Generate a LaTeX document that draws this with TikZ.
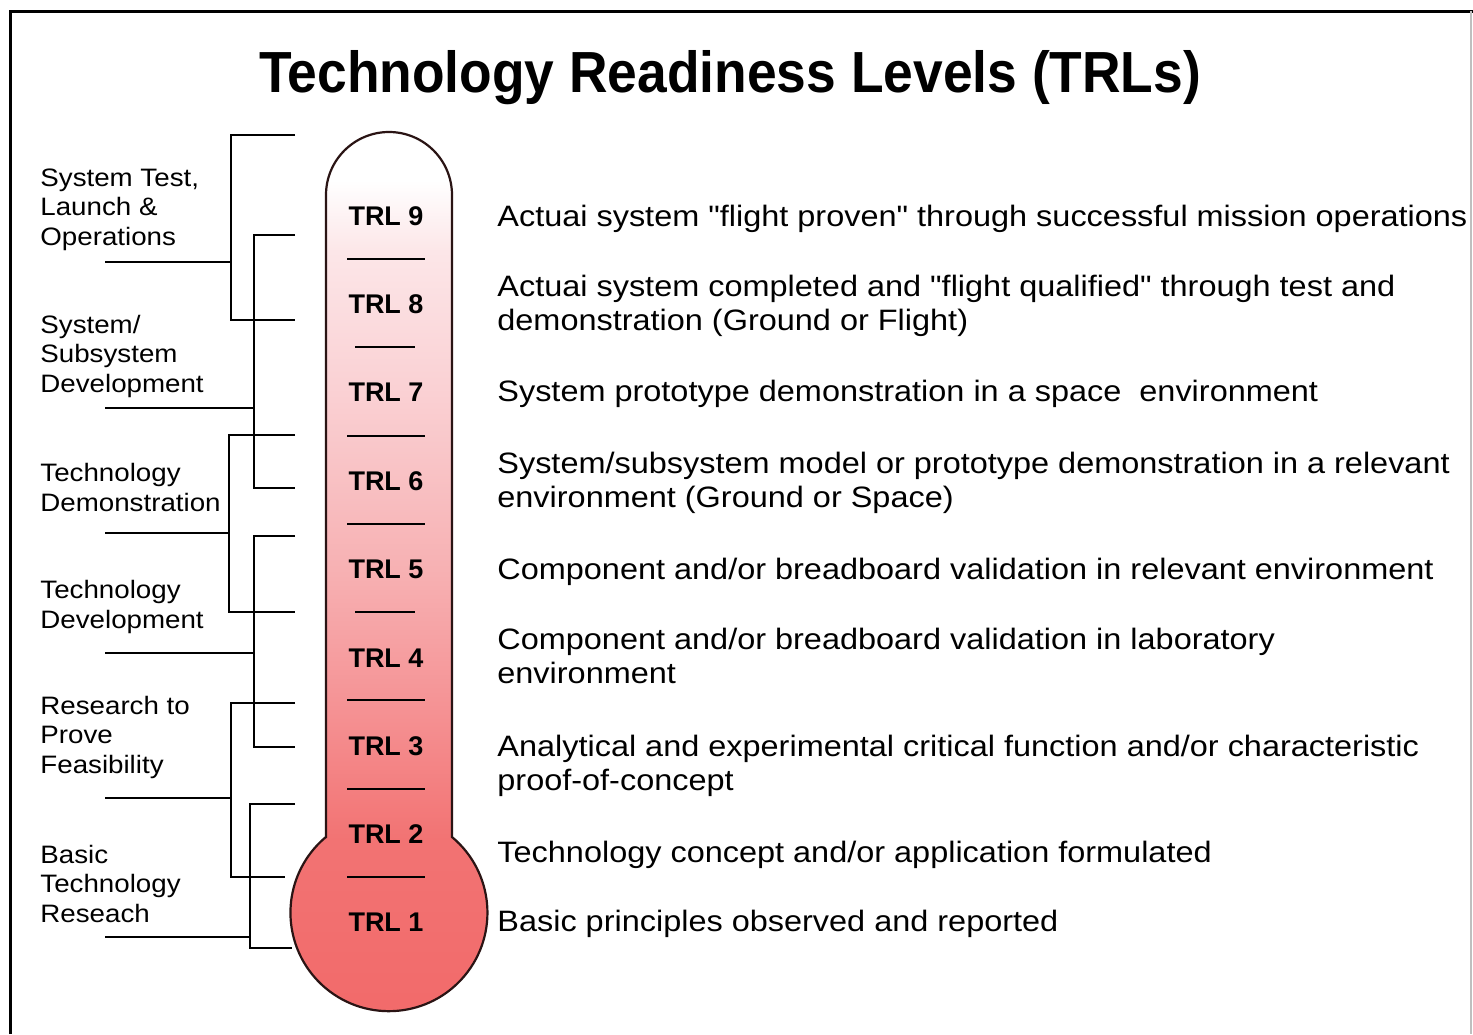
\documentclass[tikz,border=0pt]{standalone}
\usepackage{fontspec}
\setmainfont{Liberation Sans}
\newfontfamily\descfont[FakeStretch=1.1]{Liberation Sans}
\newfontfamily\titlefont[FakeStretch=0.92]{Liberation Sans}
\definecolor{bulbc}{HTML}{F26A6A}
\definecolor{tc1}{HTML}{F27373}
\definecolor{tc2}{HTML}{F59294}
\definecolor{tc3}{HTML}{F7B0B2}
\definecolor{tc4}{HTML}{FAD0D3}
\definecolor{tc5}{HTML}{FCE6E8}
\definecolor{outl}{HTML}{2A1414}
\pgfdeclareverticalshading{thermo}{100bp}{color(0bp)=(bulbc); color(25bp)=(bulbc); color(35.3bp)=(tc1); color(42.7bp)=(tc2); color(50.2bp)=(tc3); color(60.3bp)=(tc4); color(68.3bp)=(tc5); color(72.3bp)=(white); color(75bp)=(white); color(100bp)=(white)}
\tikzset{
  ttl/.style={anchor=base, inner sep=0pt, font=\titlefont\bfseries\fontsize{29}{34}\selectfont},
  trl/.style={anchor=base, inner sep=0pt, font=\bfseries\fontsize{13.5}{16}\selectfont},
  desc/.style={anchor=base west, align=left, inner sep=0pt, font=\descfont\fontsize{14.75}{17}\selectfont},
  cat/.style={anchor=base west, align=left, inner sep=0pt, font=\descfont\fontsize{12.6}{14.75}\selectfont},
  brk/.style={line width=1.2pt, black},
  sep/.style={line width=1.2pt, black},
  frame/.style={line width=1.5pt, black}
}
\begin{document}
\begin{tikzpicture}[x=0.5pt,y=-0.5pt]
\useasboundingbox[fill=white] (0,0) rectangle (1473,1034);
% frame
\coordinate (fa) at (10,1034);
\coordinate (fb) at (10,11);
\coordinate (fc) at (1473,11);
\coordinate (fd) at (1471,11);
\coordinate (fe) at (1471,1034);
\draw[frame] (fa) -- (fb) -- (fc);
\draw[line width=0.8pt, black!25] (fd) -- (fe);
% title
\node[ttl] (title) at (730,92) {Technology Readiness Levels (TRLs)};
% thermometer
\path[draw=outl, line width=1.1pt, shading=thermo]
  (326,837) -- (326,195) arc[start angle=180, end angle=360, radius=63]
  -- (452,837) arc[start angle=-50.2, end angle=230.2, radius=98.5] -- cycle;
% separators
\foreach \y/\a/\b in {259/347/425, 347/355/415, 436/347/425, 524/347/425, 612/355/415, 700/347/425, 789/347/425, 877/347/425}{
  \coordinate (sl\y) at (\a,\y);
  \coordinate (sr\y) at (\b,\y);
  \draw[sep] (sl\y) -- (sr\y);
}
% TRL labels
\node[trl] (t9) at (386,225) {TRL 9};
\node[trl] (t8) at (386,313) {TRL 8};
\node[trl] (t7) at (386,401) {TRL 7};
\node[trl] (t6) at (386,490) {TRL 6};
\node[trl] (t5) at (386,578) {TRL 5};
\node[trl] (t4) at (386,667) {TRL 4};
\node[trl] (t3) at (386,755) {TRL 3};
\node[trl] (t2) at (386,843) {TRL 2};
\node[trl] (t1) at (386,931) {TRL 1};
% descriptions (base = last line)
\node[desc] (d9) at (497,226) {Actuai system "flight proven" through successful mission operations};
\node[desc] (d8) at (497,330) {Actuai system completed and "flight qualified" through test and\\demonstration (Ground or Flight)};
\node[desc] (d7) at (497,401) {System prototype demonstration in a space~ environment};
\node[desc] (d6) at (497,507) {System/subsystem model or prototype demonstration in a relevant\\environment (Ground or Space)};
\node[desc] (d5) at (497,579) {Component and/or breadboard validation in relevant environment};
\node[desc] (d4) at (497,683) {Component and/or breadboard validation in laboratory\\environment};
\node[desc] (d3) at (497,790) {Analytical and experimental critical function and/or characteristic\\proof-of-concept};
\node[desc] (d2) at (497,862) {Technology concept and/or application formulated};
\node[desc] (d1) at (497,931) {Basic principles observed and reported};
% categories (base = last line)
\node[cat] (c1) at (40,245) {System Test,\\Launch \&\\Operations};
\node[cat] (c2) at (40,392) {System/\\Subsystem\\Development};
\node[cat] (c3) at (40,511) {Technology\\Demonstration};
\node[cat] (c4) at (40,628) {Technology\\Development};
\node[cat] (c5) at (40,773) {Research to\\Prove\\Feasibility};
\node[cat] (c6) at (40,922) {Basic\\Technology\\Reseach};
% brackets: name/x/ytop/ybot/xtopend/xbotend/ycat
\foreach \n/\x/\ya/\yb/\ea/\eb/\yc in {1/231/135/320/295/295/262, 2/254/235/488/295/295/408, 3/229/435/612/295/295/533, 4/254/536/747/295/295/653, 5/231/703/877/295/285/798, 6/250/804/948/295/292/937}{
  \coordinate (ba\n) at (\ea,\ya);
  \coordinate (bb\n) at (\x,\ya);
  \coordinate (bc\n) at (\x,\yb);
  \coordinate (bd\n) at (\eb,\yb);
  \coordinate (ca\n) at (105,\yc);
  \coordinate (cb\n) at (\x,\yc);
  \draw[brk] (ba\n) -- (bb\n) -- (bc\n) -- (bd\n);
  \draw[brk] (ca\n) -- (cb\n);
}
\end{tikzpicture}
\end{document}
